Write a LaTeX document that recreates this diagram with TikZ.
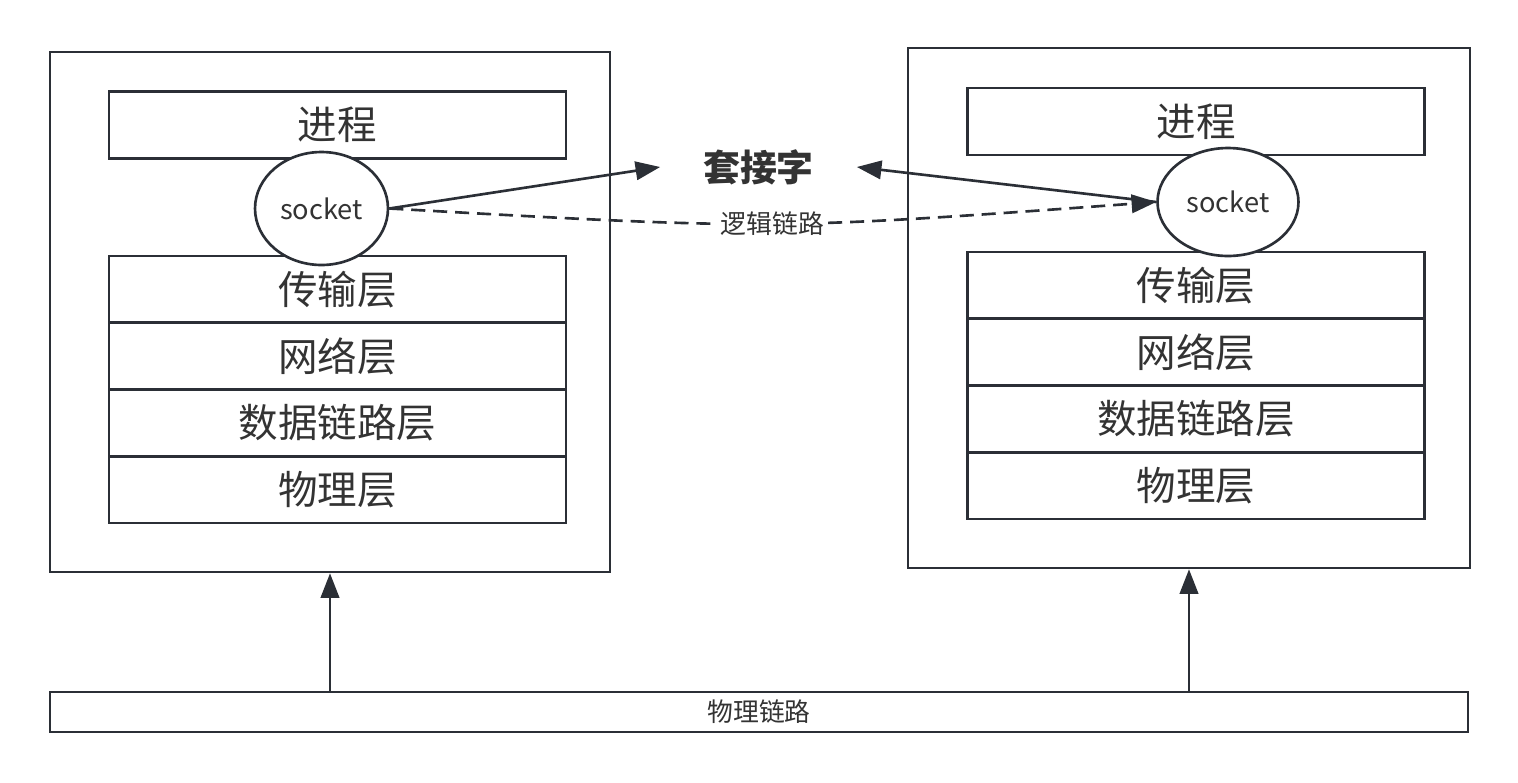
\documentclass[tikz,border=0pt]{standalone}
\usepackage{fontspec}
\setmainfont{Noto Sans CJK SC}
\usetikzlibrary{arrows.meta,positioning,shapes.geometric}
\definecolor{Ink}{HTML}{333333}
\definecolor{Edge}{HTML}{2B2F36}
\tikzset{
  >={Triangle[length=14pt,width=10.5pt]},
  host/.style={draw=Edge,line width=1.5pt,inner sep=0pt},
  layer/.style={draw=Edge,line width=1.5pt,fill=white,minimum width=9.14cm,minimum height=1.335cm,inner sep=0pt,outer sep=0pt,text=Ink,font=\fontsize{22.5}{26}\selectfont},
  sock/.style={ellipse,draw=Edge,line width=1.5pt,fill=white,inner sep=0pt,text=Ink,font=\fontsize{15.5}{18}\selectfont},
  link/.style={->,line width=1.5pt,draw=Edge},
  logic/.style={link,dash pattern=on 8pt off 4.5pt},
  lab/.style={font=\fontsize{14.7}{17}\selectfont,text=Ink,fill=white,inner sep=1.5pt}
}

\begin{document}
\begin{tikzpicture}[x=0.02cm,y=-0.02cm]
  \useasboundingbox (0,0) rectangle (1518,782);
  % left host
  \node[host,minimum width=11.2cm,minimum height=10.4cm] (lhost) at (330,312) {};
  \node[layer] (lproc) at (337.5,125) {进程};
  \node[layer,anchor=north] (ltrans) at (337.5,256) {传输层};
  \node[layer,below=0pt of ltrans] (lnet) {网络层};
  \node[layer,below=0pt of lnet] (llink) {数据链路层};
  \node[layer,below=0pt of llink] (lphy) {物理层};
  \node[sock,minimum width=2.66cm,minimum height=2.26cm] (lsock) at (321.5,208.5) {socket};
  % right host
  \node[host,minimum width=11.24cm,minimum height=10.4cm] (rhost) at (1189,308) {};
  \node[layer] (rproc) at (1196,121.5) {进程};
  \node[layer,anchor=north] (rtrans) at (1196,252) {传输层};
  \node[layer,below=0pt of rtrans] (rnet) {网络层};
  \node[layer,below=0pt of rnet] (rlink) {数据链路层};
  \node[layer,below=0pt of rlink] (rphy) {物理层};
  \node[sock,minimum width=2.82cm,minimum height=2.16cm] (rsock) at (1228,202) {socket};
  % socket word and links
  \node[text=Ink,font=\fontsize{21}{24}\selectfont\bfseries,minimum width=3.92cm] (sockword) at (758.5,167) {套接字};
  \node[host,minimum width=28.36cm,minimum height=0.8cm,text=Ink,font=\fontsize{14.7}{17}\selectfont] (plink) at (759,712) {物理链路};
  \draw[link] (lsock.east) -- (sockword.west);
  \draw[link] (rsock.west) -- (sockword.east);
  \draw[logic] (lsock.east) .. controls (772,230) .. node[lab] {逻辑链路} (rsock.west);
  \draw[link] (lhost.south |- plink.north) -- (lhost.south);
  \draw[link] (rhost.south |- plink.north) -- (rhost.south);
\end{tikzpicture}
\end{document}
